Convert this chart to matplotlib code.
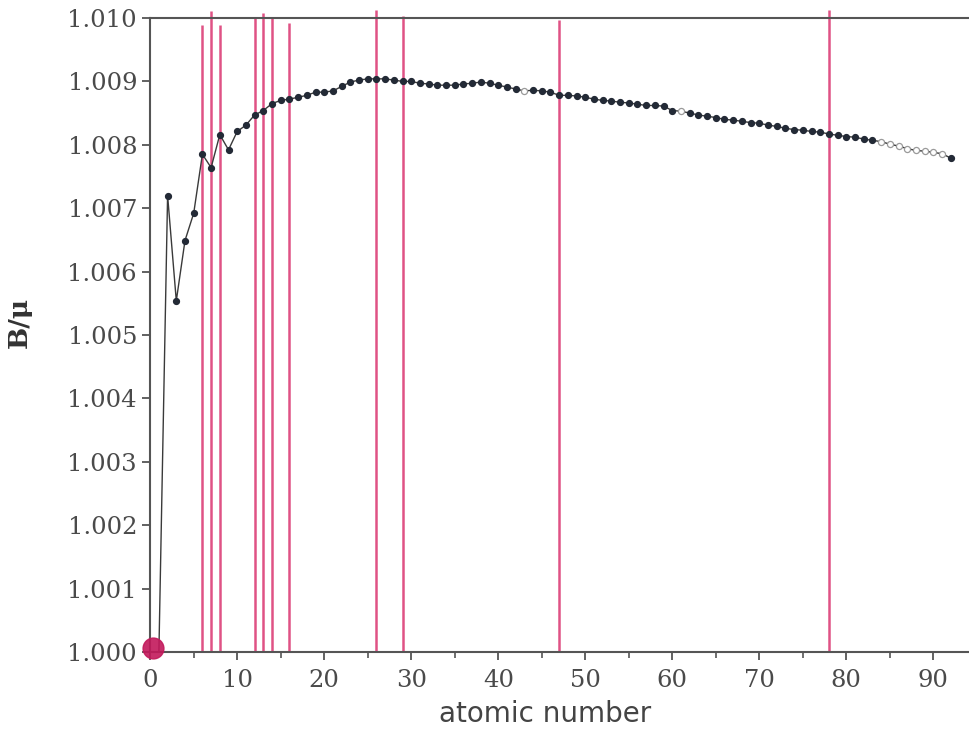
import matplotlib.pyplot as plt
from matplotlib.ticker import FixedLocator, MultipleLocator, FormatStrFormatter

# B/mu against atomic number
atomic_number = list(range(1, 93))
b_over_mu = [
    1.00000, 1.00720, 1.00554, 1.00649, 1.00692, 1.00785, 1.00764, 1.00816, 1.00792, 1.00821,
    1.00831, 1.00847, 1.00854, 1.00865, 1.00870, 1.00872, 1.00875, 1.00878, 1.00883, 1.00883,
    1.00885, 1.00892, 1.00899, 1.00902, 1.00904, 1.00904, 1.00904, 1.00902, 1.00900, 1.00900,
    1.00897, 1.00896, 1.00894, 1.00894, 1.00894, 1.00896, 1.00897, 1.00899, 1.00897, 1.00894,
    1.00891, 1.00888, 1.00885, 1.00886, 1.00885, 1.00883, 1.00878, 1.00878, 1.00877, 1.00875,
    1.00872, 1.00870, 1.00869, 1.00867, 1.00866, 1.00864, 1.00862, 1.00862, 1.00861, 1.00854,
    1.00853, 1.00850, 1.00847, 1.00845, 1.00843, 1.00840, 1.00839, 1.00837, 1.00835, 1.00834,
    1.00831, 1.00829, 1.00826, 1.00824, 1.00823, 1.00821, 1.00820, 1.00817, 1.00815, 1.00813,
    1.00812, 1.00809, 1.00807, 1.00805, 1.00801, 1.00798, 1.00794, 1.00791, 1.00790, 1.00788,
    1.00786, 1.00779,
]
# elements drawn with open circles
open_points = [43, 61, 84, 85, 86, 87, 88, 89, 90, 91]

# red marker lines
marked_elements = [6, 7, 8, 12, 13, 14, 16, 26, 29, 47, 78]
marked_tops = [1.00989, 1.01011, 1.00989, 1.01000, 1.01008, 1.01000, 1.00992, 1.01013, 1.01003, 1.00997, 1.01013]

y_ticks = [1.000, 1.001, 1.002, 1.003, 1.004, 1.005, 1.006, 1.007, 1.008, 1.009, 1.010]
x_ticks = [0, 10, 20, 30, 40, 50, 60, 70, 80, 90]

AXIS_GRAY = "#555555"
RED = "#dc3f78"

fig = plt.figure(figsize=(9.69, 7.37), dpi=100)
ax = fig.add_axes([0.155, 0.1153, 0.845, 0.8603])

ax.vlines(marked_elements, 1.000, marked_tops, colors=RED, linewidth=1.8,
          alpha=0.9, clip_on=False, zorder=1)

ax.plot(atomic_number, b_over_mu, color="#3a3a3a", linewidth=1.0, zorder=2)

filled_x = [z for z in atomic_number if z not in open_points and z > 1]
filled_y = [b_over_mu[z - 1] for z in filled_x]
open_y = [b_over_mu[z - 1] for z in open_points]
ax.plot(filled_x, filled_y, "o", markersize=4.2, color="#232a36", zorder=3)
ax.plot(open_points, open_y, "o", markersize=4.4, markerfacecolor="white",
        markeredgecolor="#9a9a9a", markeredgewidth=0.9, zorder=3)

# hand-drawn blob at the origin
ax.plot(0.35, 1.00006, "o", markersize=15, color="#c2185b", alpha=0.9,
        clip_on=False, zorder=4)

ax.set_xlim(0, 94.1)
ax.set_ylim(1.000, 1.010)

ax.yaxis.set_major_locator(FixedLocator(y_ticks))
ax.yaxis.set_major_formatter(FormatStrFormatter("%.3f"))
ax.xaxis.set_major_locator(FixedLocator(x_ticks))
ax.xaxis.set_minor_locator(MultipleLocator(5))

for side in ["left", "bottom", "top"]:
    ax.spines[side].set_color(AXIS_GRAY)
    ax.spines[side].set_linewidth(1.5)
ax.spines["right"].set_visible(False)

ax.tick_params(axis="both", which="major", direction="out", length=6, width=1.3,
               color=AXIS_GRAY, labelcolor="#4a4a4a", labelsize=17.5)
ax.tick_params(axis="x", which="major", pad=6)
ax.tick_params(axis="x", which="minor", direction="out", length=4, width=1.2,
               color=AXIS_GRAY)
for label in ax.get_xticklabels() + ax.get_yticklabels():
    label.set_family("DejaVu Serif")

ax.set_ylabel("B/μ", fontsize=19, fontweight="bold", family="DejaVu Serif",
              color="#333333")
ax.yaxis.set_label_coords(-0.145, 0.52)
ax.set_xlabel("atomic number", fontsize=20, family="DejaVu Sans", color="#444444")
ax.xaxis.set_label_coords(0.482, -0.075)

fig.savefig("out.png", dpi=100)
